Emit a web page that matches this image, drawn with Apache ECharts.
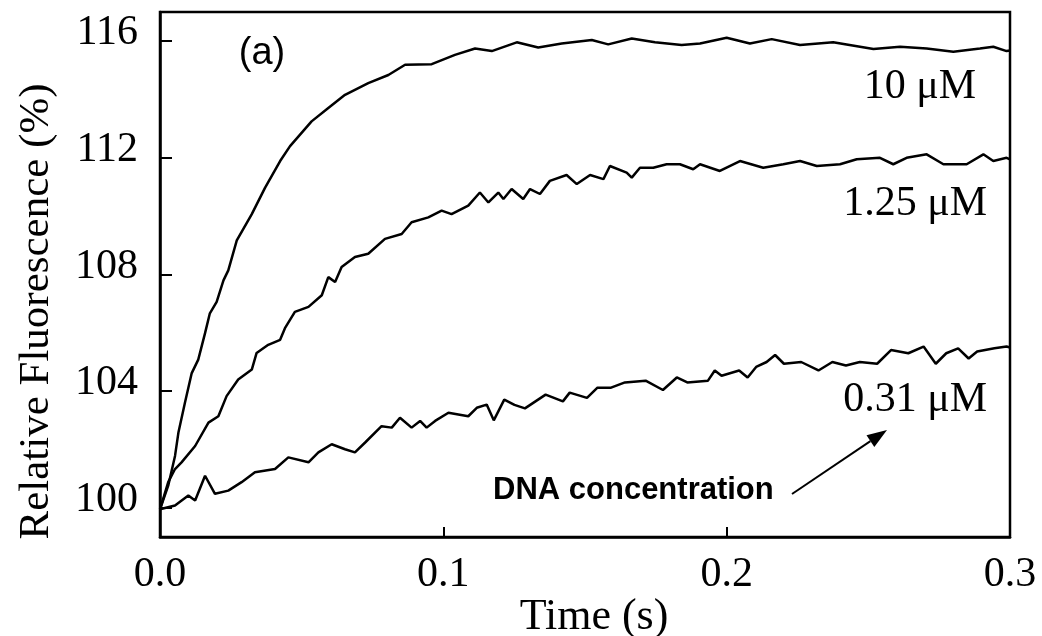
<!DOCTYPE html>
<html>
<head>
<meta charset="utf-8">
<script src="https://cdn.jsdelivr.net/npm/echarts@6/dist/echarts.min.js"></script>
<style>html,body{margin:0;padding:0;background:#fff;}#c{width:1042px;height:636px;}</style>
</head>
<body>
<div id="c"></div>
<script>
// ---- data (time in s, relative fluorescence in %) ----
const t10 = [0,0.0029,0.0053,0.0065,0.0088,0.0112,0.0135,0.0159,0.0176,0.0200,0.0224,0.0241,0.0271,0.0324,0.0371,0.0424,0.0459,0.0535,0.0594,0.0653,0.0735,0.0806,0.0865,0.0959,0.1041,0.1112,0.1171,0.1259,0.1335,0.1418,0.1524,0.1582,0.1665,0.1747,0.1841,0.1906,0.2000,0.2082,0.2159,0.2259,0.2376,0.2518,0.2612,0.2706,0.2800,0.2894,0.2941,0.2988,0.3000];
const v10 = [99.95,100.76,101.78,102.58,103.60,104.62,105.08,105.99,106.67,107.06,107.80,108.14,109.17,110.07,110.98,111.89,112.40,113.25,113.71,114.16,114.56,114.84,115.19,115.21,115.53,115.75,115.66,115.96,115.78,115.92,116.04,115.89,116.09,115.96,115.87,115.92,116.12,115.92,116.07,115.87,115.96,115.73,115.81,115.75,115.64,115.75,115.81,115.66,115.68];

const t125 = [0,0.0029,0.0053,0.0076,0.0124,0.0171,0.0206,0.0235,0.0276,0.0324,0.0341,0.0382,0.0424,0.0441,0.0476,0.0524,0.0571,0.0594,0.0618,0.0641,0.0688,0.0735,0.0794,0.0853,0.0888,0.0947,0.0994,0.1029,0.1088,0.1129,0.1159,0.1194,0.1212,0.1241,0.1282,0.1306,0.1341,0.1376,0.1435,0.1471,0.1518,0.1565,0.1588,0.1647,0.1665,0.1694,0.1741,0.1788,0.1835,0.1882,0.1906,0.1976,0.2047,0.2129,0.2200,0.2259,0.2318,0.2400,0.2459,0.2541,0.2588,0.2635,0.2706,0.2765,0.2847,0.2906,0.2941,0.2988,0.3000];
const v125 = [99.95,100.88,101.33,101.56,102.12,102.92,103.14,103.83,104.40,104.74,105.31,105.59,105.76,106.16,106.72,106.89,107.29,107.91,107.74,108.26,108.60,108.71,109.22,109.39,109.79,109.96,110.19,110.07,110.36,110.81,110.47,110.81,110.59,110.93,110.59,110.93,110.76,111.21,111.41,111.10,111.41,111.27,111.72,111.49,111.32,111.66,111.66,111.78,111.78,111.61,111.78,111.55,111.89,111.66,111.78,111.89,111.72,111.78,111.95,112.00,111.78,112.00,112.12,111.78,111.78,112.12,111.89,112.00,111.95];

const t031 = [0,0.0053,0.0100,0.0124,0.0159,0.0194,0.0241,0.0288,0.0335,0.0406,0.0453,0.0524,0.0559,0.0606,0.0653,0.0688,0.0724,0.0782,0.0818,0.0847,0.0888,0.0918,0.0941,0.0971,0.1018,0.1088,0.1118,0.1153,0.1178,0.1215,0.1251,0.1288,0.1361,0.1422,0.1446,0.1507,0.1544,0.1592,0.1641,0.1714,0.1775,0.1824,0.1861,0.1934,0.1958,0.1982,0.2044,0.2074,0.2104,0.2141,0.2171,0.2202,0.2263,0.2324,0.2373,0.2421,0.2470,0.2531,0.2580,0.2641,0.2695,0.2738,0.2775,0.2817,0.2854,0.2884,0.2945,0.2988,0.3000];
const v031 = [99.95,100.08,100.42,100.25,101.10,100.48,100.59,100.88,101.22,101.33,101.73,101.56,101.90,102.18,102.01,101.90,102.24,102.80,102.75,103.09,102.75,102.98,102.75,102.98,103.26,103.14,103.43,103.54,103.00,103.71,103.53,103.41,103.88,103.65,103.95,103.77,104.12,104.12,104.30,104.36,104.04,104.47,104.30,104.36,104.71,104.53,104.71,104.47,104.83,105.00,105.24,104.94,105.00,104.71,105.00,104.88,105.00,104.94,105.41,105.30,105.53,104.94,105.30,105.47,105.12,105.36,105.47,105.53,105.50];

const xTicks = [0, 0.1, 0.2, 0.3];
const yTicks = [100, 104, 108, 112, 116];
const seriesLabels = ['10 \u03bcM', '1.25 \u03bcM', '0.31 \u03bcM'];

const SERIF = "'Liberation Serif','Times New Roman',serif";
const SANS = "'Liberation Sans',Arial,sans-serif";

function pairs(t, v) { return t.map((x, i) => [x, v[i]]); }

const chart = echarts.init(document.getElementById('c'), null, {renderer: 'canvas'});

const lineSeries = (name, t, v) => ({
  name, type: 'line', data: pairs(t, v), showSymbol: false, smooth: false,
  lineStyle: {color: '#000', width: 2.5}, itemStyle: {color: '#000'}, animation: false
});

// arrow geometry
const aFrom = [792, 494], aTo = [887, 430];
const dx = aTo[0] - aFrom[0], dy = aTo[1] - aFrom[1], L = Math.hypot(dx, dy);
const ux = dx / L, uy = dy / L, hl = 20, hw = 7;
const bx = aTo[0] - ux * hl, by = aTo[1] - uy * hl;

chart.setOption({
  backgroundColor: '#fff',
  animation: false,
  grid: {left: 160, right: 32, top: 12, bottom: 99, containLabel: false, outerBoundsMode: 'none',
         show: true, borderColor: '#000', borderWidth: 2.5, backgroundColor: 'transparent'},
  xAxis: {
    type: 'value', min: 0, max: 0.3,
    name: 'Time (s)', nameLocation: 'middle', nameGap: 58, nameMoveOverlap: false,
    nameTextStyle: {fontFamily: SERIF, fontSize: 44, color: '#000', padding: [0, 0, 0, 18]},
    axisLine: {show: true, lineStyle: {color: '#000', width: 2.5}},
    axisTick: {show: true, inside: true, length: 10, customValues: xTicks, lineStyle: {color: '#000', width: 2}},
    axisLabel: {customValues: xTicks, formatter: v => v.toFixed(1), fontFamily: SERIF, fontSize: 42, color: '#000', margin: 17},
    splitLine: {show: false}
  },
  yAxis: {
    type: 'value', min: 99, max: 117,
    name: 'Relative Fluorescence (%)', nameLocation: 'middle', nameGap: 102,
    nameTextStyle: {fontFamily: SERIF, fontSize: 43, color: '#000', padding: [0, 74, 0, 0]},
    axisLine: {show: true, lineStyle: {color: '#000', width: 2.5}},
    axisTick: {show: true, inside: true, length: 12, customValues: yTicks, lineStyle: {color: '#000', width: 2}},
    axisLabel: {
      customValues: yTicks, margin: 22,
      formatter: v => '{t|' + v + '}',
      rich: {t: {fontFamily: SERIF, fontSize: 42, color: '#000', padding: [0, 0, 16, 0]}}
    },
    splitLine: {show: false}
  },
  series: [
    lineSeries(seriesLabels[0], t10, v10),
    lineSeries(seriesLabels[1], t125, v125),
    lineSeries(seriesLabels[2], t031, v031)
  ],
  graphic: [
    {type: 'text', x: 262, y: 54, style: {text: '(a)', font: '38px ' + SANS, fill: '#000', align: 'center', verticalAlign: 'middle'}},
    {type: 'text', x: 976, y: 87, style: {text: seriesLabels[0], font: '42px ' + SERIF, fill: '#000', align: 'right', verticalAlign: 'middle'}},
    {type: 'text', x: 987, y: 204, style: {text: seriesLabels[1], font: '42px ' + SERIF, fill: '#000', align: 'right', verticalAlign: 'middle'}},
    {type: 'text', x: 987, y: 400, style: {text: seriesLabels[2], font: '42px ' + SERIF, fill: '#000', align: 'right', verticalAlign: 'middle'}},
    {type: 'text', x: 493, y: 490, style: {text: 'DNA concentration', font: 'bold 31px ' + SANS, fill: '#000', align: 'left', verticalAlign: 'middle'}},
    {type: 'line', shape: {x1: aFrom[0], y1: aFrom[1], x2: bx, y2: by}, style: {stroke: '#000', lineWidth: 2}},
    {type: 'polygon', shape: {points: [[aTo[0], aTo[1]], [bx + uy * hw, by - ux * hw], [bx - uy * hw, by + ux * hw]]}, style: {fill: '#000'}}
  ]
});
</script>
</body>
</html>
